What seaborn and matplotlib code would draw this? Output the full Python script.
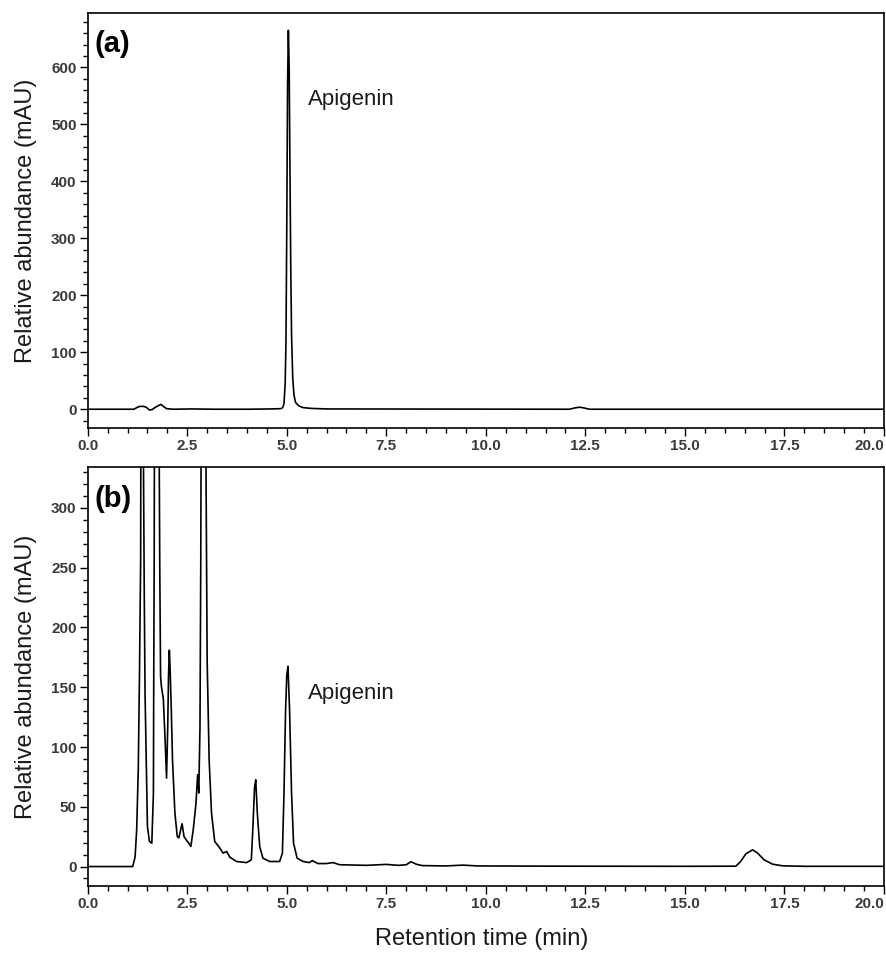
import matplotlib
matplotlib.use("Agg")
import matplotlib.pyplot as plt
import seaborn as sns
import pandas as pd
from matplotlib.ticker import MultipleLocator

# Chromatogram (a): apigenin standard
time_a = [0.0, 1.16, 1.25, 1.31, 1.41, 1.48, 1.55, 1.62, 1.69, 1.78, 1.84, 1.90, 1.98, 2.15,
          2.6, 3.2, 4.0, 4.6, 4.85, 4.90, 4.93, 4.96, 4.98, 5.00, 5.02, 5.04, 5.06, 5.08,
          5.10, 5.12, 5.15, 5.18, 5.22, 5.30, 5.40, 5.60, 6.0, 12.1, 12.25, 12.35, 12.45,
          12.6, 20.0]
abund_a = [0.0, 0.0, 3.5, 5.0, 5.0, 3.0, -1.5, -0.5, 3.0, 6.5, 8.5, 5.0, 1.0, 0.0,
           0.5, 0.0, 0.0, 0.5, 1.0, 3.0, 10.0, 45.0, 120.0, 320.0, 570.0, 665.0, 600.0, 420.0,
           250.0, 130.0, 55.0, 25.0, 12.0, 6.0, 3.0, 1.5, 0.5, 0.0, 2.5, 3.5, 2.5,
           0.0, 0.0]

# Chromatogram (b): sample extract (first three peaks run off the top)
time_b = [0.0, 1.13, 1.19, 1.23, 1.27, 1.30, 1.33, 1.35, 1.37, 1.39, 1.40, 1.42, 1.44, 1.50,
          1.55, 1.61, 1.65, 1.66, 1.67, 1.68, 1.72, 1.76, 1.79, 1.81, 1.83, 1.85, 1.90, 1.94,
          1.98, 2.01, 2.03, 2.05, 2.07, 2.10, 2.13, 2.19, 2.25, 2.29, 2.33, 2.37, 2.42, 2.48,
          2.54, 2.59, 2.65, 2.72, 2.76, 2.79, 2.82, 2.84, 2.86, 2.90, 2.94, 2.97, 3.00, 3.05,
          3.11, 3.19, 3.32, 3.40, 3.49, 3.57, 3.74, 3.99, 4.11, 4.15, 4.19, 4.22, 4.26, 4.32,
          4.40, 4.57, 4.82, 4.89, 4.93, 4.97, 5.00, 5.03, 5.07, 5.12, 5.17, 5.26, 5.41, 5.57,
          5.64, 5.78, 5.99, 6.16, 6.33, 7.0, 7.5, 7.8, 8.0, 8.12, 8.25, 8.4, 9.0, 9.42, 9.8,
          12.0, 15.0, 16.28, 16.40, 16.53, 16.70, 16.82, 16.99, 17.2, 17.45, 18.0, 20.0]
abund_b = [0.0, 0.0, 8.0, 31.0, 81.0, 160.0, 257.0, 700.0, 950.0, 520.0, 340.0, 230.0, 145.0, 33.5,
           21.0, 19.5, 61.0, 173.0, 257.0, 450.0, 900.0, 700.0, 380.0, 250.0, 159.0, 151.0, 140.0, 109.0,
           74.0, 117.0, 160.0, 181.0, 165.0, 130.0, 89.0, 44.7, 25.0, 24.0, 30.0, 35.8, 25.0, 22.0,
           19.5, 16.8, 30.7, 53.0, 76.8, 61.5, 117.0, 257.0, 500.0, 1300.0, 900.0, 340.0, 173.0, 89.0,
           44.7, 21.0, 15.4, 11.2, 12.6, 7.8, 4.2, 3.3, 5.6, 33.5, 66.0, 72.6, 44.7, 16.8,
           7.0, 4.2, 4.2, 11.2, 61.5, 131.0, 160.0, 167.5, 131.0, 61.5, 19.6, 7.0, 4.2, 3.3,
           5.0, 2.5, 2.5, 3.3, 1.5, 1.0, 1.8, 1.0, 1.5, 4.0, 2.0, 0.8, 0.5, 1.2, 0.5,
           0.3, 0.2, 0.3, 4.2, 10.6, 14.0, 11.4, 5.6, 2.0, 0.6, 0.2, 0.2]

xticks = [0.0, 2.5, 5.0, 7.5, 10.0, 12.5, 15.0, 17.5, 20.0]
label_name = "Apigenin"

df_a = pd.DataFrame({"time": time_a, "abund": abund_a})
df_b = pd.DataFrame({"time": time_b, "abund": abund_b})

sns.set_style("ticks")
plt.rcParams["font.family"] = ["Liberation Sans", "DejaVu Sans"]

fig = plt.figure(figsize=(8.86, 9.55), dpi=100)
ax_a = fig.add_axes([0.099, 0.5518, 0.8987, 0.4349])
ax_b = fig.add_axes([0.099, 0.0726, 0.8987, 0.4381])

panels = [
    (ax_a, df_a, (-33, 696), 100, 20, "(a)", 543),
    (ax_b, df_b, (-16, 334), 50, 10, "(b)", 145),
]

for ax, df, ylim, ymaj, ymin, tag, label_y in panels:
    sns.lineplot(data=df, x="time", y="abund", ax=ax, color="black",
                 linewidth=1.2, estimator=None, sort=False)
    ax.set_xlim(0, 20)
    ax.set_ylim(*ylim)
    ax.set_xticks(xticks)
    ax.set_xticklabels([f"{t:.1f}" for t in xticks])
    ax.xaxis.set_minor_locator(MultipleLocator(0.5))
    ax.yaxis.set_major_locator(MultipleLocator(ymaj))
    ax.yaxis.set_minor_locator(MultipleLocator(ymin))
    ax.tick_params(which="major", length=6, width=1.0, color="black",
                   labelsize=11, labelcolor="#3a3a3a", pad=2)
    ax.tick_params(which="minor", length=3.5, width=1.0, color="black")
    for lab in ax.get_xticklabels() + ax.get_yticklabels():
        lab.set_fontweight("bold")
    # last x label sits left of its tick, as in the original
    ax.get_xticklabels()[-1].set_horizontalalignment("right")
    for spine in ax.spines.values():
        spine.set_visible(True)
        spine.set_color("black")
        spine.set_linewidth(1.2)
    ax.set_ylabel("Relative abundance (mAU)", fontsize=17, color="#1a1a1a")
    ax.yaxis.set_label_coords(-0.064, 0.5)
    ax.set_xlabel("")
    ax.text(0.008, 0.925, tag, transform=ax.transAxes, fontsize=21,
            fontweight="bold", va="center", ha="left", color="black")
    ax.text(5.53, label_y, label_name, fontsize=16, va="center", ha="left",
            color="#1a1a1a")

ax_b.set_xlabel("Retention time (min)", fontsize=17, color="#1a1a1a")
ax_b.xaxis.set_label_coords(0.495, -0.1)

fig.savefig("out.png", dpi=100, facecolor="white")
